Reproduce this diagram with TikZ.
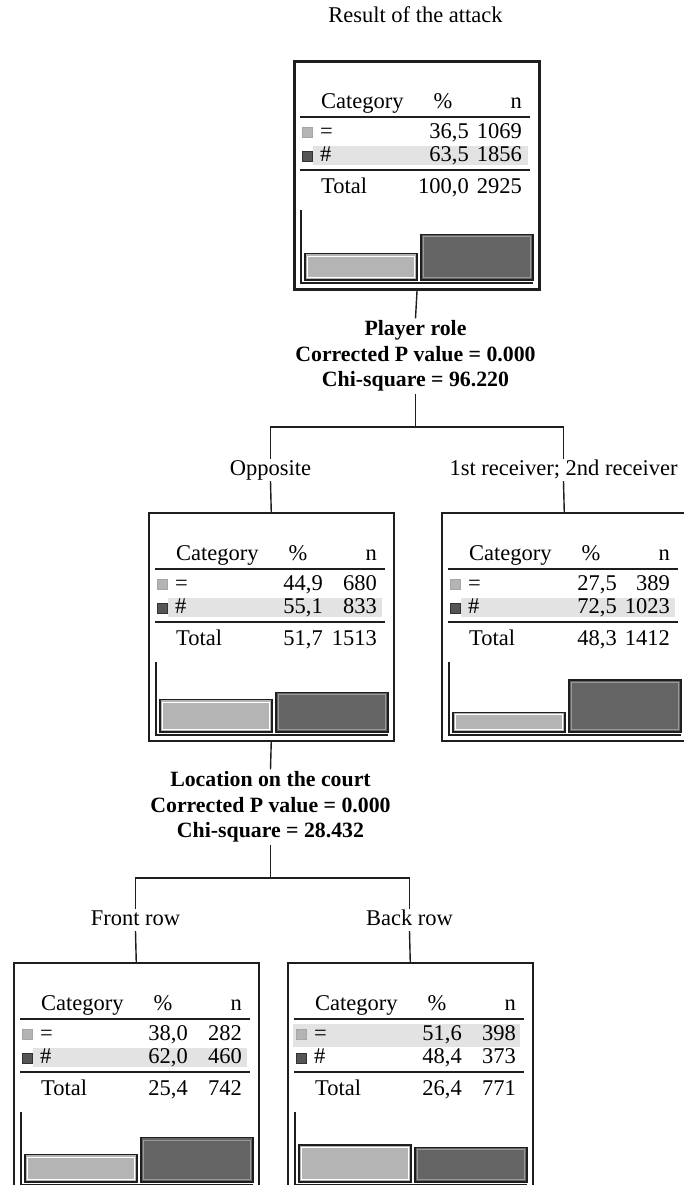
\documentclass[tikz,border=0pt]{standalone}
\usepackage{fontspec}
\setmainfont{Liberation Serif}
\definecolor{bandc}{HTML}{E3E3E3}
\definecolor{lightc}{HTML}{B4B4B4}
\definecolor{darkc}{HTML}{646464}
\definecolor{linec}{HTML}{1E1E1E}
\tikzset{
  tbox/.style={draw=linec, line width=1.5pt, rectangle, minimum width=245pt, minimum height=228pt, inner sep=0pt, anchor=north west},
  rootbox/.style={tbox, line width=3pt},
  lab/.style={font=\fontsize{22.5}{24}\selectfont, inner sep=1pt, text height=15pt, text depth=5pt},
  splitlab/.style={font=\bfseries\fontsize{21.8}{25.5}\selectfont, align=center, inner sep=2pt},
  conn/.style={draw=linec, line width=1.4pt},
  tx/.style={font=\fontsize{22.5}{24}\selectfont, inner sep=0pt, text height=15pt, text depth=4.5pt},
  rule/.style={draw=linec, line width=1.5pt},
  lsq/.style={fill=lightc, draw=gray!70, line width=0.6pt},
  dsq/.style={fill=darkc!85!black, draw=black!80, line width=0.6pt},
  lbar/.style={fill=lightc, draw=linec, line width=1.4pt},
  dbar/.style={fill=darkc, draw=linec, line width=1.4pt},
}
\def\pctx{175}
\newcommand\boxbody[8]{%
  \node[tx,anchor=west] (\bx-cat) at (28,43) {Category};
  \node[tx] (\bx-pct) at (150,43) {\%};
  \node[tx,anchor=east] (\bx-n) at (229,43) {n};
  \draw[rule] (7,57) -- (237,57);
  \fill[lsq] (9,67) rectangle (19,77);
  \fill[dsq] (9,91) rectangle (19,101);
  \draw[lsq] (9,67) rectangle (19,77);
  \draw[dsq] (9,91) rectangle (19,101);
  \node[tx,anchor=west] (\bx-c1) at (27,73) {=};
  \node[tx,anchor=east] (\bx-p1) at (\pctx,73) {#1};
  \node[tx,anchor=east] (\bx-n1) at (229,73) {#2};
  \node[tx,anchor=west] (\bx-c2) at (27,96) {\#};
  \node[tx,anchor=east] (\bx-p2) at (\pctx,96) {#3};
  \node[tx,anchor=east] (\bx-n2) at (229,96) {#4};
  \draw[rule] (7,110) -- (237,110);
  \node[tx,anchor=west] (\bx-tot) at (28,128) {Total};
  \node[tx,anchor=east] (\bx-pt) at (\pctx,128) {#5};
  \node[tx,anchor=east] (\bx-nt) at (229,128) {#6};
  \draw[rule, line width=1.2pt] (8,150) -- (8,223) -- (240,223);
  \draw[lbar] (12,220) rectangle (124,{220-#7});
  \draw[white, line width=0.8pt] (14.5,217.5) rectangle (121.5,{222.5-#7});
  \draw[dbar] (128,220) rectangle (240,{220-#8});
  \draw[gray!80, line width=0.8pt] (130.5,217.5) rectangle (237.5,{222.5-#8});
}
\begin{document}
\begin{tikzpicture}[x=1pt,y=-1pt]
\useasboundingbox (0,0) rectangle (683,1185);
\fill[white] (0,0) rectangle (683,1185);

% title
\node[lab] (title) at (415.5,18) {Result of the attack};

% root box
\node[rootbox] (root) at (293,60) {};
\begin{scope}[shift={(293,60)}]
  \fill[bandc] (20,86) rectangle (235,105);
  \def\bx{r}\def\pctx{176}
  \boxbody{36,5}{1069}{63,5}{1856}{100,0}{2925}{26.3}{45.7}
\end{scope}

% split 1
\node[splitlab] (s1) at (415.5,356) {Player role\\Corrected P value = 0.000\\Chi-square = 96.220};
\coordinate (j1) at (415.5,427);
\node[lab] (l1) at (270.5,470) {Opposite};
\node[lab] (l2) at (563.5,470) {1st receiver; 2nd receiver};
\draw[conn] (root.south) -- (s1.north);
\draw[conn] (s1.south) -- (j1);
\draw[conn] (j1) -| (l1.north);
\draw[conn] (j1) -| (l2.north);

% box 1
\node[tbox] (b1) at (148,512) {};
\begin{scope}[shift={(148,512)}]
  \fill[bandc] (20,86) rectangle (234,105);
  \def\bx{b1}\def\pctx{175}
  \boxbody{44,9}{680}{55,1}{833}{51,7}{1513}{32.3}{39.7}
\end{scope}

% box 2
\node[tbox] (b2) at (441,512) {};
\begin{scope}[shift={(441,512)}]
  \fill[bandc] (20,86) rectangle (234,105);
  \def\bx{b2}\def\pctx{176}
  \boxbody{27,5}{389}{72,5}{1023}{48,3}{1412}{19.8}{52.2}
\end{scope}
\draw[conn] (l1.south) -- (b1.north);
\draw[conn] (l2.south) -- (b2.north);

% split 2
\node[splitlab] (s2) at (270.5,807) {Location on the court\\Corrected P value = 0.000\\Chi-square = 28.432};
\coordinate (j2) at (270.5,878);
\node[lab] (l3) at (135.5,920) {Front row};
\node[lab] (l4) at (409.5,920) {Back row};
\draw[conn] (b1.south) -- (s2.north);
\draw[conn] (s2.south) -- (j2);
\draw[conn] (j2) -| (l3.north);
\draw[conn] (j2) -| (l4.north);

% box 3
\node[tbox] (b3) at (13,962) {};
\begin{scope}[shift={(13,962)}]
  \fill[bandc] (20,86) rectangle (234,105);
  \def\bx{b3}\def\pctx{175}
  \boxbody{38,0}{282}{62,0}{460}{25,4}{742}{27.4}{44.6}
\end{scope}

% box 4
\node[tbox] (b4) at (287,962) {};
\begin{scope}[shift={(287,962)}]
  \fill[bandc] (6,62) rectangle (233,85);
  \def\bx{b4}\def\pctx{175}
  \boxbody{51,6}{398}{48,4}{373}{26,4}{771}{37.2}{34.8}
\end{scope}
\draw[conn] (l3.south) -- (b3.north);
\draw[conn] (l4.south) -- (b4.north);
\end{tikzpicture}
\end{document}
